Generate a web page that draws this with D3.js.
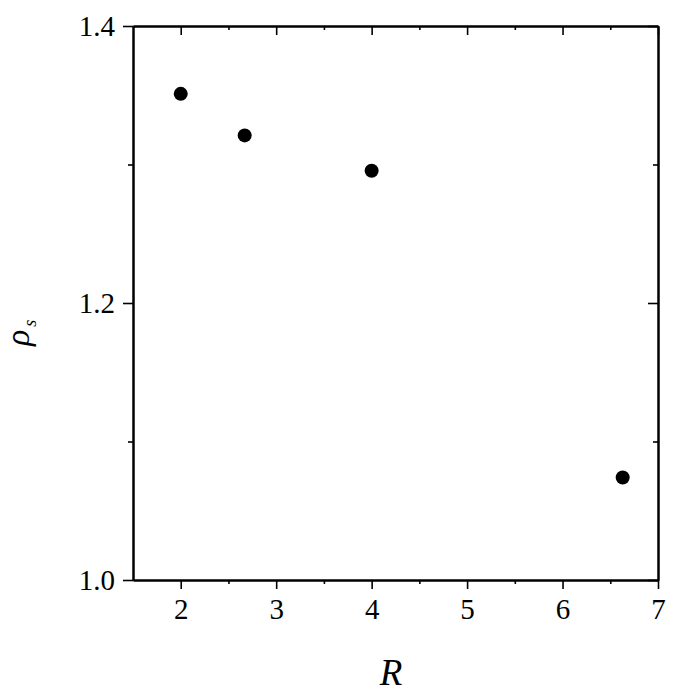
<!DOCTYPE html>
<html>
<head>
<meta charset="utf-8">
<script src="https://cdn.jsdelivr.net/npm/d3@7"></script>
<style>
  html, body { margin: 0; padding: 0; background: #ffffff; }
  svg { display: block; }
  svg text { font-family: "Liberation Serif", "Times New Roman", Times, "DejaVu Serif", serif; fill: #000; }
  .tick text { font-size: 29px; }
</style>
</head>
<body>
<svg id="chart" width="674" height="694"></svg>
<script>
const rValues = [2, 2.67, 4, 6.63];
const rhoValues = [1.351, 1.321, 1.2955, 1.074];
const xMajorTicks = [2, 3, 4, 5, 6, 7];
const xMinorTicks = [2.5, 3.5, 4.5, 5.5, 6.5];
const yMajorTicks = [1.0, 1.2, 1.4];
const yMinorTicks = [1.1, 1.3];
const xDomain = [1.5, 7];
const yDomain = [1.0, 1.4];

const svg = d3.select("#chart");
const mLeft = 133, mRight = 658, mTop = 26, mBottom = 580;

const x = d3.scaleLinear().domain(xDomain).range([mLeft, mRight]);
const y = d3.scaleLinear().domain(yDomain).range([mBottom, mTop]);

function styleAxis(g) {
  g.attr("font-family", null).attr("font-size", null);
  g.select(".domain").attr("stroke", "#000").attr("stroke-width", 2);
  g.selectAll(".tick line").attr("stroke", "#000").attr("stroke-width", 1.6);
}

// bottom axis
svg.append("g").attr("transform", `translate(0,${mBottom})`)
  .call(d3.axisBottom(x).tickValues(xMajorTicks).tickFormat(d3.format("d")).tickSize(9).tickPadding(9).tickSizeOuter(0))
  .call(styleAxis);
svg.append("g").attr("transform", `translate(0,${mBottom})`)
  .call(d3.axisBottom(x).tickValues(xMinorTicks).tickFormat("").tickSize(4).tickSizeOuter(0))
  .call(styleAxis);
// top axis (inward)
svg.append("g").attr("transform", `translate(0,${mTop})`)
  .call(d3.axisBottom(x).tickValues(xMajorTicks).tickFormat("").tickSize(9).tickSizeOuter(0))
  .call(styleAxis);
svg.append("g").attr("transform", `translate(0,${mTop})`)
  .call(d3.axisBottom(x).tickValues(xMinorTicks).tickFormat("").tickSize(4).tickSizeOuter(0))
  .call(styleAxis);
// left axis
svg.append("g").attr("transform", `translate(${mLeft},0)`)
  .call(d3.axisLeft(y).tickValues(yMajorTicks).tickFormat(d3.format(".1f")).tickSize(10).tickPadding(8).tickSizeOuter(0))
  .call(styleAxis);
svg.append("g").attr("transform", `translate(${mLeft},0)`)
  .call(d3.axisLeft(y).tickValues(yMinorTicks).tickFormat("").tickSize(5).tickSizeOuter(0))
  .call(styleAxis);
// right axis (inward)
svg.append("g").attr("transform", `translate(${mRight},0)`)
  .call(d3.axisLeft(y).tickValues(yMajorTicks).tickFormat("").tickSize(10).tickSizeOuter(0))
  .call(styleAxis);
svg.append("g").attr("transform", `translate(${mRight},0)`)
  .call(d3.axisLeft(y).tickValues(yMinorTicks).tickFormat("").tickSize(5).tickSizeOuter(0))
  .call(styleAxis);

// points
svg.append("g").selectAll("circle")
  .data(rValues.map((r, i) => ({ r, rho: rhoValues[i] })))
  .join("circle")
  .attr("cx", d => x(d.r))
  .attr("cy", d => y(d.rho))
  .attr("r", 7)
  .attr("fill", "#000");

// x label
svg.append("text")
  .attr("x", 391)
  .attr("y", 685)
  .attr("text-anchor", "middle")
  .attr("font-style", "italic")
  .attr("font-size", 37)
  .text("R");

// y label
const yl = svg.append("text")
  .attr("transform", `translate(29,346) rotate(-90)`)
  .attr("text-anchor", "start")
  .attr("font-style", "italic")
  .attr("font-size", 34);
yl.append("tspan").text("ρ");
yl.append("tspan").attr("font-size", 18).attr("dx", 3).attr("dy", 7).text("s");
</script>
</body>
</html>
